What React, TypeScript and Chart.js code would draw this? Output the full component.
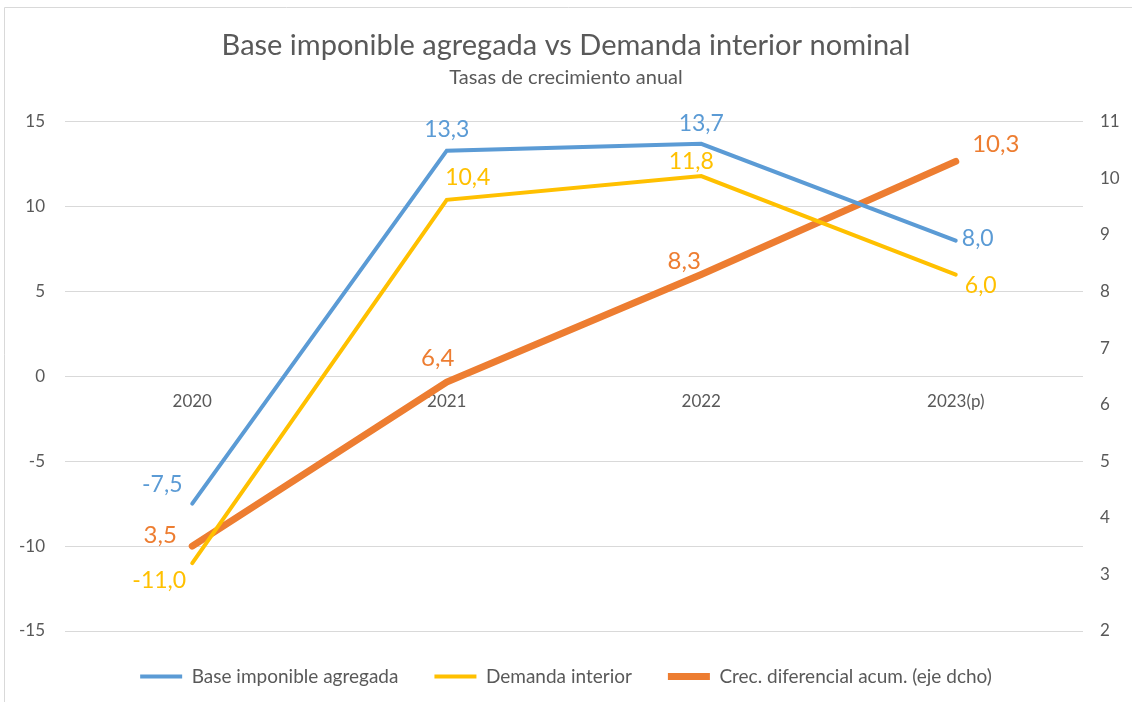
import React, { useEffect, useRef } from "react";
import { Chart, registerables } from "chart.js";

Chart.register(...registerables);

const categories = ["2020", "2021", "2022", "2023(p)"];
const baseImponible = [-7.5, 13.3, 13.7, 8.0];
const demandaInterior = [-11.0, 10.4, 11.8, 6.0];
const crecDiferencial = [3.5, 6.4, 8.3, 10.3];
const leftTicks = [-15, -10, -5, 0, 5, 10, 15];
const rightTicks = [2, 3, 4, 5, 6, 7, 8, 9, 10, 11];

const TITLE = "Base imponible agregada vs Demanda interior nominal";
const SUBTITLE = "Tasas de crecimiento anual";

const BLUE = "#5B9BD5";
const YELLOW = "#FFC000";
const ORANGE = "#ED7D31";
const TEXT = "#595959";
const GRID = "#D9D9D9";
const FONT = "Lato, 'Open Sans', sans-serif";

// label offsets relative to each point (dx, dy), and font sizes per dataset
const labelOffsets: number[][][] = [
  [[-30, -19], [0, -21], [0, -20], [22, -2]],
  [[-33, 17], [21, -22], [-10, -15], [25, 11]],
  [[-32, -11], [-9, -24], [-17, -13], [40, -17]],
];
const labelSizes = [23, 23, 24];

const fmt = (v: number) => v.toFixed(1).replace(".", ",");

const dataLabelPlugin = {
  id: "dataLabels",
  afterDatasetsDraw(chart: any) {
    const ctx = chart.ctx;
    chart.data.datasets.forEach((ds: any, di: number) => {
      const meta = chart.getDatasetMeta(di);
      ctx.save();
      ctx.font = `${labelSizes[di]}px ${FONT}`;
      ctx.fillStyle = ds.borderColor;
      ctx.textAlign = "center";
      ctx.textBaseline = "middle";
      meta.data.forEach((pt: any, i: number) => {
        const [dx, dy] = labelOffsets[di][i];
        ctx.fillText(fmt(ds.data[i]), pt.x + dx, pt.y + dy);
      });
      ctx.restore();
    });
  },
};

const borderPlugin = {
  id: "frame",
  afterDraw(chart: any) {
    const ctx = chart.ctx;
    ctx.save();
    ctx.strokeStyle = GRID;
    ctx.lineWidth = 1;
    ctx.beginPath();
    ctx.moveTo(4.5, chart.height);
    ctx.lineTo(4.5, 7.5);
    ctx.lineTo(chart.width, 7.5);
    ctx.stroke();
    ctx.restore();
  },
};

export default function App() {
  const ref = useRef<HTMLCanvasElement>(null);
  useEffect(() => {
    const chart = new Chart(ref.current as HTMLCanvasElement, {
      type: "line",
      data: {
        labels: categories,
        datasets: [
          {
            label: "Base imponible agregada",
            data: baseImponible,
            borderColor: BLUE,
            backgroundColor: BLUE,
            borderWidth: 4,
            borderCapStyle: "round",
            pointRadius: 0,
            yAxisID: "y",
          },
          {
            label: "Demanda interior",
            data: demandaInterior,
            borderColor: YELLOW,
            backgroundColor: YELLOW,
            borderWidth: 4,
            borderCapStyle: "round",
            pointRadius: 0,
            yAxisID: "y",
          },
          {
            label: "Crec. diferencial acum. (eje dcho)",
            data: crecDiferencial,
            borderColor: ORANGE,
            backgroundColor: ORANGE,
            borderWidth: 7,
            borderCapStyle: "round",
            pointRadius: 0,
            yAxisID: "y1",
          },
        ],
      },
      options: {
        animation: false,
        responsive: false,
        layout: { padding: { top: 0, bottom: 6, left: 0, right: 0 } },
        scales: {
          x: {
            position: { y: 0 } as any,
            offset: true,
            grid: { display: false, drawTicks: false },
            border: { display: false },
            ticks: { color: TEXT, font: { family: FONT, size: 17 }, padding: 15 },
            afterFit(scale: any) {
              scale.height = 0;
            },
          },
          y: {
            position: "left",
            min: -15,
            max: 15,
            afterBuildTicks(scale: any) {
              scale.ticks = leftTicks.map((v) => ({ value: v }));
            },
            grid: { color: GRID, drawTicks: false },
            border: { display: false },
            ticks: { color: TEXT, font: { family: FONT, size: 17 }, padding: 20 },
            afterFit(scale: any) {
              scale.width = 65;
            },
          },
          y1: {
            position: "right",
            min: 2,
            max: 11,
            afterBuildTicks(scale: any) {
              scale.ticks = rightTicks.map((v) => ({ value: v }));
            },
            grid: { display: false, drawTicks: false },
            border: { display: false },
            ticks: { color: TEXT, font: { family: FONT, size: 17 }, padding: 17 },
            afterFit(scale: any) {
              scale.width = 49;
            },
          },
        },
        plugins: {
          title: {
            display: true,
            text: TITLE,
            color: TEXT,
            font: { family: FONT, size: 29, weight: "normal" },
            padding: { top: 28, bottom: 0 },
          },
          subtitle: {
            display: true,
            text: SUBTITLE,
            color: TEXT,
            font: { family: FONT, size: 20, weight: "normal" },
            padding: { top: 3, bottom: 32 },
          },
          legend: {
            position: "bottom",
            labels: {
              color: TEXT,
              font: { family: FONT, size: 19 },
              usePointStyle: true,
              pointStyle: "line",
              pointStyleWidth: 42,
              padding: 36,
            },
          },
          tooltip: { enabled: false },
        },
      },
      plugins: [dataLabelPlugin, borderPlugin],
    } as any);
    return () => chart.destroy();
  }, []);
  return (
    <div style={{ position: "absolute", left: 0, top: 0, width: 1132, height: 702, background: "#fff" }}>
      <canvas ref={ref} width={1132} height={702} />
    </div>
  );
}
